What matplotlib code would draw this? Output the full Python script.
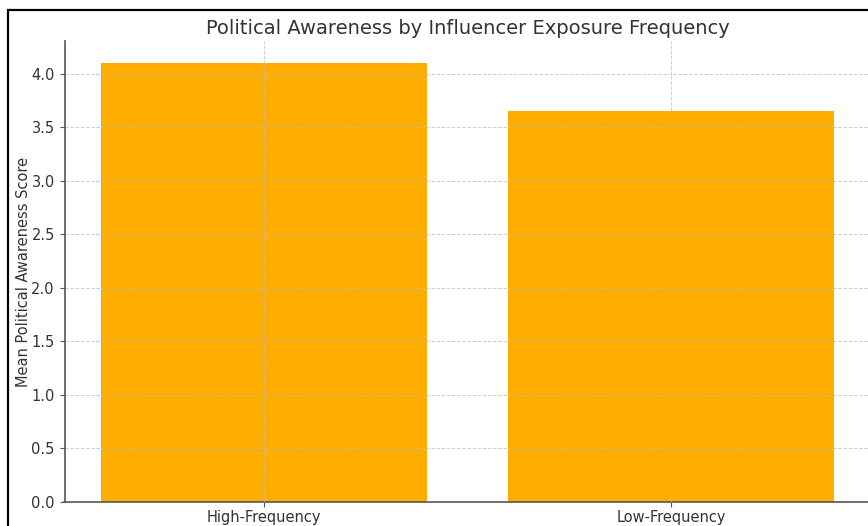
import matplotlib.pyplot as plt
from matplotlib.patches import Rectangle

groups = ["High-Frequency", "Low-Frequency"]
mean_scores = [4.1, 3.65]

W, H = 868, 526
fig = plt.figure(figsize=(W / 100, H / 100), dpi=100)

# outer frame of the figure (extends past the right and bottom edges)
fig.patches.append(Rectangle((8 / W, -0.1), 1.2, 1 - 10 / H + 0.1,
                             transform=fig.transFigure, fill=False,
                             edgecolor="black", linewidth=1.6))

ax = fig.add_axes([64.5 / W, 1 - 502 / H, (870.5 - 64.5) / W, (502 - 41) / H])
ax.bar(groups, mean_scores, width=0.8, color="#FFAE00")

ax.grid(True, linestyle="--", linewidth=0.7, color="#bbbbbb", alpha=0.7)
ax.set_axisbelow(False)

ax.set_title("Political Awareness by Influencer Exposure Frequency",
             fontsize=14, color="#333333", pad=5)
ax.set_ylabel("Mean Political Awareness Score", fontsize=10.5,
              color="#333333", labelpad=0)

for side in ["top", "right"]:
    ax.spines[side].set_visible(False)
for side in ["left", "bottom"]:
    ax.spines[side].set_color("#555555")
    ax.spines[side].set_linewidth(1.2)
ax.tick_params(colors="#333333", labelsize=10.5)
ax.tick_params(axis="both", color="#555555")
ax.tick_params(axis="x", pad=2)

fig.savefig("out.png", dpi=100)
